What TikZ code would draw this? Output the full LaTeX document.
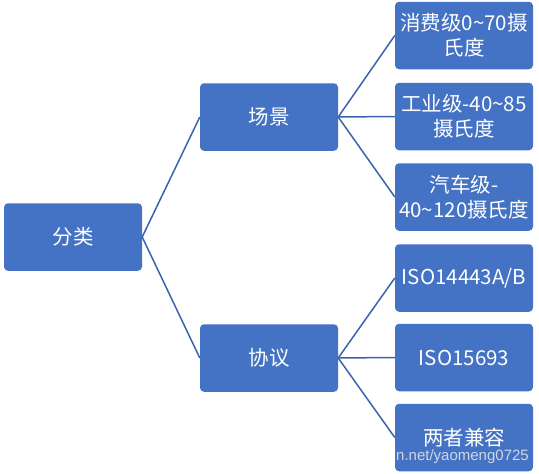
\documentclass[tikz,border=0pt]{standalone}
\usepackage{fontspec}
\setmainfont{Noto Sans CJK SC}
\newfontfamily\wmfont{Liberation Sans}
\definecolor{boxblue}{HTML}{4472C4}
\definecolor{lineblue}{HTML}{3A63AE}
\definecolor{wmgrey}{HTML}{D0D6E2}
\begin{document}
\begin{tikzpicture}[x=1pt,y=-1pt,
  box/.style={fill=boxblue, rounded corners=4pt, minimum width=138pt, minimum height=67.5pt,
    inner sep=0pt, align=center, text=white, font=\fontsize{20.5}{25}\selectfont},
  link/.style={draw=lineblue, line width=1.5pt}]
\useasboundingbox (0,0) rectangle (539,474);
\node[box] (fl) at (73,237) {分类};
\node[box] (cj) at (269,117) {场景};
\node[box] (xy) at (269,358) {协议};
\node[box] (r1) at (464,35.5) {消费级0\char"7E 70摄\\氏度};
\node[box] (r2) at (464,116.5) {工业级-40\char"7E 85\\摄氏度};
\node[box] (r3) at (464,197) {汽车级-\\40\char"7E 120摄氏度};
\node[box] (r4) at (464,278) {ISO14443A/B};
\node[box] (r5) at (464,357.5) {ISO15693};
\node[box] (r6) at (464,437.5) {两者兼容};
\draw[link] (fl.east) -- (cj.west);
\draw[link] (fl.east) -- (xy.west);
\draw[link] (cj.east) -- (r1.west);
\draw[link] (cj.east) -- (r2.west);
\draw[link] (cj.east) -- (r3.west);
\draw[link] (xy.east) -- (r4.west);
\draw[link] (xy.east) -- (r5.west);
\draw[link] (xy.east) -- (r6.west);
\begin{scope}
\clip[rounded corners=4pt] (r6.south west) rectangle (r6.north east);
\node[anchor=base east, inner sep=0pt, text=wmgrey, font=\wmfont\fontsize{15}{18}\selectfont] (wm) at (529,460) {blog.csdn.net/yaomeng0725};
\end{scope}
\end{tikzpicture}
\end{document}
